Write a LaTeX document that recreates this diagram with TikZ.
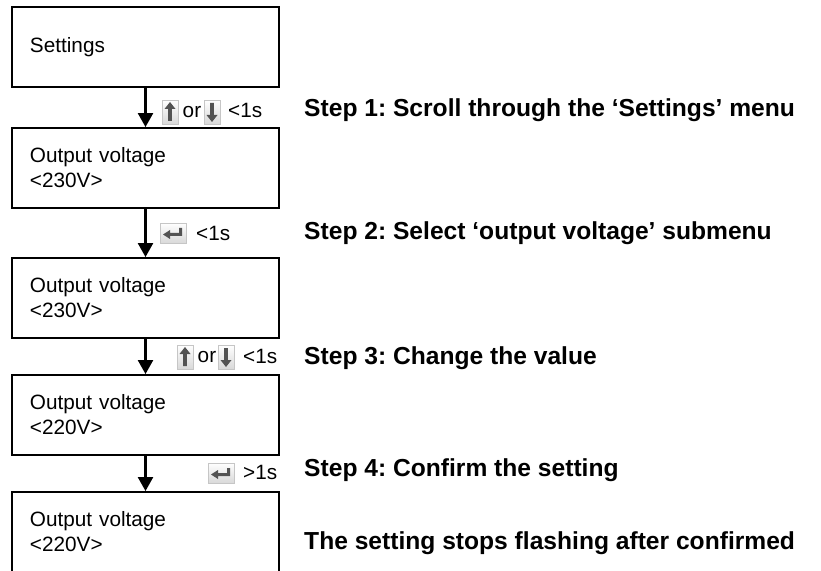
\documentclass[tikz,border=0pt]{standalone}
\usepackage{fontspec}
\setmainfont{Liberation Sans}
\usetikzlibrary{arrows.meta}
\frenchspacing

\tikzset{
  upkey/.pic={
    \draw[gray!45, top color=white, bottom color=gray!30] (-8,-12) rectangle (8,12);
    \fill[gray!20!black!75] (-1.8,9) -- (-1.8,-3) -- (-5.5,-3) -- (0,-10) -- (5.5,-3) -- (1.8,-3) -- (1.8,9) -- cycle;
  },
  downkey/.pic={
    \draw[gray!45, top color=white, bottom color=gray!30] (-8,-12) rectangle (8,12);
    \fill[gray!20!black!75] (-1.8,-9) -- (-1.8,3) -- (-5.5,3) -- (0,10) -- (5.5,3) -- (1.8,3) -- (1.8,-9) -- cycle;
  },
  enterkey/.pic={
    \draw[gray!45, top color=white, bottom color=gray!30] (-13,-10) rectangle (13,10);
    \fill[gray!20!black!75] (9,-5) -- (9,3) -- (-3,3) -- (-3,6) -- (-10,1.5) -- (-3,-3) -- (-3,0) -- (6,0) -- (6,-5) -- cycle;
  }
}

\begin{document}
\begin{tikzpicture}[x=0.03cm,y=-0.03cm,>={Triangle[width=0.45cm,length=0.42cm]},
  screen/.style={draw, line width=1.6pt, minimum width=8.01cm, minimum height=2.4cm,
    text width=6.93cm, inner xsep=0.54cm, align=left,
    font=\fontsize{17.7}{21.3}\selectfont},
  keytext/.style={anchor=west, inner sep=0pt, font=\fontsize{17.7}{21.3}\selectfont},
  steptext/.style={anchor=west, inner sep=0pt, font=\fontsize{21}{25}\selectfont\bfseries},
  flow/.style={->, line width=2pt}]
  \useasboundingbox (0,0) rectangle (821,571);
  \clip (0,0) rectangle (821,571);

  % menu screens
  \node[screen] (settings) at (145.5,47) {Settings};
  \node[screen] (volt1) at (145.5,168) {Output voltage\\<230V>};
  \node[screen] (volt2) at (145.5,298) {Output voltage\\<230V>};
  \node[screen] (volt3) at (145.5,415) {Output voltage\\<220V>};
  \node[screen] (volt4) at (145.5,532) {Output voltage\\<220V>};

  \draw[flow] (settings) -- (volt1);
  \draw[flow] (volt1) -- (volt2);
  \draw[flow] (volt2) -- (volt3);
  \draw[flow] (volt3) -- (volt4);

  % key presses
  \pic at (170,112) {upkey};
  \node[keytext] (or1) at (182.5,112) {or};
  \pic at (212,112) {downkey};
  \node[keytext] (time1) at (228,110) {<1s};

  \pic at (173,233) {enterkey};
  \node[keytext] (time2) at (196,233) {<1s};

  \pic at (185,357) {upkey};
  \node[keytext] (or3) at (197.5,357) {or};
  \pic at (226,357) {downkey};
  \node[keytext] (time3) at (243,356) {<1s};

  \pic at (221,473) {enterkey};
  \node[keytext] (time4) at (243,472) {>1s};

  % step descriptions
  \node[steptext] (step1) at (304,110) {Step 1: Scroll through the ‘Settings’ menu};
  \node[steptext] (step2) at (304,233) {Step 2: Select ‘output voltage’ submenu};
  \node[steptext] (step3) at (304,358) {Step 3: Change the value};
  \node[steptext] (step4) at (304,470) {Step 4: Confirm the setting};
  \node[steptext] (done) at (304,543) {The setting stops flashing after confirmed};
\end{tikzpicture}
\end{document}
